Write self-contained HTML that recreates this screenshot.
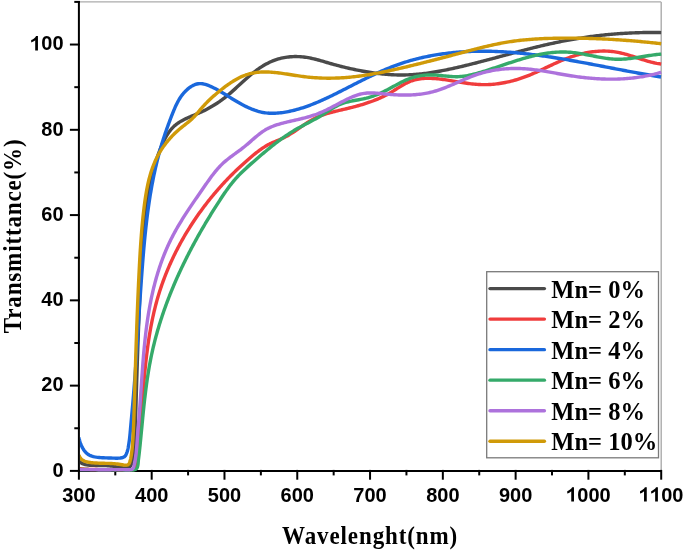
<!DOCTYPE html>
<html><head><meta charset="utf-8"><style>
html,body{margin:0;padding:0;background:#fff;width:685px;height:552px;overflow:hidden}
svg{display:block;filter:blur(0.4px)}
</style></head><body>
<svg width="685" height="552" viewBox="0 0 685 552">
<rect width="685" height="552" fill="#fff"/>
<g stroke="#ababab" stroke-width="1.4" fill="none">
<line x1="78.9" y1="1.9" x2="661.2" y2="1.9"/>
<line x1="661.2" y1="1.9" x2="661.2" y2="470.9"/>
</g>
<g stroke="#000" stroke-width="2" fill="none">
<line x1="78.9" y1="0.9999999999999999" x2="78.9" y2="470.9"/>
<line x1="78.9" y1="470.9" x2="661.2" y2="470.9"/>
<line x1="78.90" y1="469.90" x2="78.90" y2="479.70"/>
<line x1="115.29" y1="469.90" x2="115.29" y2="475.40"/>
<line x1="151.69" y1="469.90" x2="151.69" y2="479.70"/>
<line x1="188.08" y1="469.90" x2="188.08" y2="475.40"/>
<line x1="224.48" y1="469.90" x2="224.48" y2="479.70"/>
<line x1="260.87" y1="469.90" x2="260.87" y2="475.40"/>
<line x1="297.26" y1="469.90" x2="297.26" y2="479.70"/>
<line x1="333.66" y1="469.90" x2="333.66" y2="475.40"/>
<line x1="370.05" y1="469.90" x2="370.05" y2="479.70"/>
<line x1="406.44" y1="469.90" x2="406.44" y2="475.40"/>
<line x1="442.84" y1="469.90" x2="442.84" y2="479.70"/>
<line x1="479.23" y1="469.90" x2="479.23" y2="475.40"/>
<line x1="515.63" y1="469.90" x2="515.63" y2="479.70"/>
<line x1="552.02" y1="469.90" x2="552.02" y2="475.40"/>
<line x1="588.41" y1="469.90" x2="588.41" y2="479.70"/>
<line x1="624.81" y1="469.90" x2="624.81" y2="475.40"/>
<line x1="661.20" y1="469.90" x2="661.20" y2="479.70"/>
<line x1="69.90" y1="470.90" x2="79.90" y2="470.90"/>
<line x1="74.30" y1="428.26" x2="79.90" y2="428.26"/>
<line x1="69.90" y1="385.63" x2="79.90" y2="385.63"/>
<line x1="74.30" y1="342.99" x2="79.90" y2="342.99"/>
<line x1="69.90" y1="300.35" x2="79.90" y2="300.35"/>
<line x1="74.30" y1="257.72" x2="79.90" y2="257.72"/>
<line x1="69.90" y1="215.08" x2="79.90" y2="215.08"/>
<line x1="74.30" y1="172.45" x2="79.90" y2="172.45"/>
<line x1="69.90" y1="129.81" x2="79.90" y2="129.81"/>
<line x1="74.30" y1="87.17" x2="79.90" y2="87.17"/>
<line x1="69.90" y1="44.54" x2="79.90" y2="44.54"/>
<line x1="74.30" y1="1.90" x2="79.90" y2="1.90"/>
</g>
<defs><clipPath id="pc"><rect x="79.9" y="0" width="590" height="480"/></clipPath></defs>
<g fill="none" stroke-width="3.4" stroke-linejoin="round" stroke-linecap="butt" clip-path="url(#pc)">
<path d="M78.83,461.06 L79.98,462.10 L81.21,462.95 L82.50,463.64 L83.85,464.18 L85.25,464.60 L86.69,464.91 L88.16,465.12 L89.66,465.26 L91.17,465.34 L92.69,465.39 L94.21,465.42 L95.73,465.44 L97.24,465.46 L98.75,465.47 L100.25,465.49 L101.75,465.51 L103.25,465.55 L104.74,465.60 L106.22,465.66 L107.70,465.75 L109.18,465.85 L110.65,465.99 L112.11,466.15 L113.57,466.35 L115.04,466.56 L116.52,466.81 L118.02,467.07 L119.54,467.34 L121.08,467.60 L122.63,467.80 L124.17,467.91 L125.71,467.90 L127.20,467.73 L128.58,467.36 L129.77,466.74 L130.69,465.84 L131.30,464.64 L131.69,463.23 L131.99,461.74 L132.27,460.25 L132.52,458.76 L132.76,457.27 L132.99,455.78 L133.19,454.29 L133.39,452.80 L133.57,451.31 L133.73,449.81 L133.89,448.32 L134.03,446.83 L134.16,445.34 L134.29,443.84 L134.40,442.35 L134.51,440.86 L134.60,439.36 L134.69,437.87 L134.78,436.37 L134.86,434.88 L134.93,433.38 L135.01,431.89 L135.07,430.39 L135.14,428.90 L135.20,427.40 L135.27,425.91 L135.33,424.41 L135.38,422.91 L135.44,421.42 L135.50,419.92 L135.55,418.42 L135.60,416.92 L135.65,415.43 L135.70,413.93 L135.75,412.43 L135.80,410.93 L135.85,409.44 L135.89,407.94 L135.94,406.44 L135.98,404.94 L136.03,403.45 L136.07,401.95 L136.12,400.45 L136.16,398.95 L136.21,397.45 L136.26,395.96 L136.30,394.46 L136.35,392.96 L136.39,391.46 L136.44,389.97 L136.48,388.47 L136.53,386.97 L136.58,385.47 L136.62,383.98 L136.67,382.48 L136.72,380.98 L136.76,379.49 L136.81,377.99 L136.86,376.49 L136.91,375.00 L136.95,373.50 L137.00,372.00 L137.05,370.50 L137.10,369.01 L137.15,367.51 L137.20,366.01 L137.25,364.52 L137.29,363.02 L137.34,361.52 L137.39,360.03 L137.44,358.53 L137.49,357.03 L137.54,355.54 L137.59,354.04 L137.65,352.54 L137.70,351.05 L137.75,349.55 L137.80,348.05 L137.85,346.56 L137.90,345.06 L137.96,343.56 L138.01,342.07 L138.06,340.57 L138.11,339.07 L138.17,337.58 L138.22,336.08 L138.27,334.58 L138.33,333.09 L138.38,331.59 L138.44,330.09 L138.49,328.60 L138.55,327.10 L138.60,325.60 L138.66,324.11 L138.72,322.61 L138.77,321.11 L138.83,319.62 L138.89,318.12 L138.94,316.62 L139.00,315.13 L139.06,313.63 L139.12,312.13 L139.18,310.63 L139.24,309.14 L139.30,307.64 L139.36,306.14 L139.42,304.65 L139.48,303.15 L139.54,301.65 L139.60,300.15 L139.66,298.66 L139.72,297.16 L139.78,295.66 L139.85,294.16 L139.91,292.67 L139.97,291.17 L140.04,289.67 L140.10,288.17 L140.16,286.67 L140.23,285.18 L140.29,283.68 L140.36,282.18 L140.42,280.68 L140.49,279.18 L140.56,277.69 L140.63,276.19 L140.69,274.69 L140.76,273.19 L140.83,271.69 L140.90,270.19 L140.97,268.69 L141.04,267.20 L141.11,265.70 L141.18,264.20 L141.25,262.70 L141.32,261.20 L141.40,259.70 L141.47,258.20 L141.55,256.70 L141.62,255.20 L141.70,253.70 L141.78,252.21 L141.87,250.71 L141.95,249.21 L142.04,247.71 L142.13,246.22 L142.22,244.72 L142.31,243.22 L142.41,241.72 L142.51,240.23 L142.61,238.73 L142.72,237.24 L142.83,235.74 L142.94,234.25 L143.06,232.76 L143.18,231.26 L143.30,229.77 L143.43,228.28 L143.56,226.79 L143.70,225.30 L143.84,223.81 L143.99,222.32 L144.14,220.83 L144.29,219.34 L144.45,217.85 L144.62,216.37 L144.79,214.88 L144.96,213.40 L145.14,211.92 L145.33,210.43 L145.52,208.95 L145.72,207.47 L145.93,205.99 L146.14,204.51 L146.36,203.04 L146.58,201.56 L146.81,200.09 L147.05,198.61 L147.29,197.14 L147.54,195.67 L147.80,194.20 L148.07,192.73 L148.34,191.26 L148.62,189.80 L148.91,188.33 L149.21,186.87 L149.51,185.40 L149.82,183.94 L150.14,182.49 L150.47,181.03 L150.81,179.57 L151.16,178.12 L151.51,176.66 L151.88,175.21 L152.25,173.76 L152.64,172.31 L153.03,170.87 L153.43,169.42 L153.84,167.98 L154.26,166.54 L154.70,165.10 L155.14,163.66 L155.59,162.23 L156.05,160.79 L156.53,159.36 L157.01,157.93 L157.50,156.50 L158.01,155.08 L158.53,153.65 L159.05,152.23 L159.59,150.81 L160.14,149.39 L160.71,147.98 L161.28,146.57 L161.88,145.17 L162.49,143.78 L163.12,142.40 L163.76,141.03 L164.43,139.68 L165.13,138.35 L165.85,137.04 L166.60,135.76 L167.37,134.50 L168.18,133.26 L169.02,132.06 L169.89,130.89 L170.79,129.76 L171.74,128.66 L172.72,127.60 L173.74,126.59 L174.80,125.61 L175.91,124.69 L177.06,123.80 L178.25,122.96 L179.47,122.16 L180.73,121.40 L182.02,120.66 L183.33,119.96 L184.67,119.28 L186.03,118.62 L187.40,117.98 L188.80,117.36 L190.20,116.74 L191.61,116.14 L193.02,115.55 L194.44,114.95 L195.86,114.36 L197.27,113.76 L198.68,113.15 L200.07,112.53 L201.45,111.90 L202.82,111.26 L204.18,110.60 L205.52,109.92 L206.86,109.24 L208.17,108.53 L209.48,107.82 L210.78,107.09 L212.06,106.34 L213.33,105.58 L214.59,104.80 L215.84,104.01 L217.08,103.21 L218.31,102.39 L219.53,101.55 L220.73,100.70 L221.93,99.84 L223.12,98.95 L224.29,98.06 L225.46,97.14 L226.62,96.21 L227.77,95.27 L228.91,94.31 L230.04,93.35 L231.17,92.37 L232.29,91.38 L233.41,90.38 L234.52,89.38 L235.63,88.37 L236.74,87.35 L237.85,86.34 L238.96,85.32 L240.07,84.30 L241.18,83.27 L242.29,82.26 L243.41,81.24 L244.53,80.23 L245.65,79.22 L246.78,78.22 L247.92,77.22 L249.06,76.24 L250.21,75.26 L251.38,74.30 L252.54,73.35 L253.72,72.41 L254.91,71.49 L256.11,70.58 L257.31,69.69 L258.53,68.82 L259.76,67.97 L261.00,67.14 L262.26,66.34 L263.52,65.56 L264.80,64.80 L266.09,64.08 L267.40,63.38 L268.72,62.71 L270.05,62.07 L271.40,61.46 L272.76,60.89 L274.14,60.35 L275.54,59.84 L276.95,59.38 L278.37,58.95 L279.81,58.55 L281.26,58.19 L282.73,57.87 L284.20,57.59 L285.68,57.34 L287.17,57.12 L288.66,56.94 L290.17,56.79 L291.67,56.68 L293.18,56.61 L294.69,56.56 L296.20,56.55 L297.70,56.58 L299.21,56.63 L300.71,56.72 L302.21,56.85 L303.71,57.00 L305.19,57.19 L306.67,57.41 L308.14,57.65 L309.61,57.93 L311.07,58.23 L312.53,58.55 L313.98,58.89 L315.43,59.25 L316.87,59.62 L318.31,60.01 L319.75,60.41 L321.19,60.82 L322.63,61.23 L324.06,61.66 L325.49,62.08 L326.93,62.50 L328.37,62.93 L329.80,63.35 L331.24,63.76 L332.68,64.17 L334.12,64.57 L335.57,64.96 L337.02,65.35 L338.46,65.73 L339.91,66.11 L341.37,66.48 L342.82,66.84 L344.28,67.19 L345.73,67.54 L347.19,67.89 L348.65,68.22 L350.12,68.55 L351.58,68.87 L353.05,69.19 L354.51,69.50 L355.98,69.81 L357.45,70.11 L358.93,70.40 L360.40,70.68 L361.87,70.96 L363.35,71.23 L364.83,71.49 L366.31,71.75 L367.79,72.00 L369.27,72.23 L370.75,72.47 L372.23,72.69 L373.72,72.90 L375.20,73.11 L376.69,73.30 L378.17,73.49 L379.66,73.66 L381.15,73.83 L382.64,73.98 L384.13,74.13 L385.62,74.26 L387.11,74.39 L388.60,74.50 L390.09,74.60 L391.58,74.69 L393.07,74.77 L394.56,74.84 L396.05,74.90 L397.54,74.94 L399.03,74.97 L400.52,74.99 L402.01,74.99 L403.50,74.98 L405.00,74.96 L406.49,74.92 L407.98,74.88 L409.46,74.81 L410.95,74.74 L412.44,74.65 L413.93,74.55 L415.42,74.44 L416.91,74.31 L418.39,74.18 L419.88,74.03 L421.36,73.87 L422.85,73.71 L424.33,73.53 L425.82,73.34 L427.30,73.14 L428.78,72.93 L430.27,72.72 L431.75,72.49 L433.23,72.26 L434.71,72.01 L436.19,71.76 L437.67,71.50 L439.14,71.24 L440.62,70.97 L442.10,70.69 L443.57,70.40 L445.04,70.11 L446.52,69.81 L447.99,69.51 L449.46,69.20 L450.93,68.88 L452.40,68.56 L453.87,68.24 L455.33,67.91 L456.80,67.58 L458.26,67.24 L459.73,66.90 L461.19,66.56 L462.65,66.22 L464.11,65.87 L465.57,65.52 L467.03,65.16 L468.49,64.80 L469.94,64.44 L471.40,64.08 L472.86,63.72 L474.31,63.35 L475.76,62.98 L477.22,62.61 L478.67,62.23 L480.12,61.86 L481.57,61.48 L483.02,61.10 L484.47,60.72 L485.92,60.34 L487.37,59.96 L488.82,59.57 L490.27,59.19 L491.71,58.80 L493.16,58.42 L494.61,58.03 L496.06,57.64 L497.50,57.25 L498.95,56.86 L500.39,56.47 L501.84,56.08 L503.29,55.69 L504.73,55.30 L506.18,54.92 L507.62,54.53 L509.07,54.14 L510.51,53.75 L511.96,53.36 L513.41,52.98 L514.85,52.59 L516.30,52.21 L517.74,51.83 L519.19,51.44 L520.64,51.06 L522.08,50.68 L523.53,50.31 L524.98,49.93 L526.43,49.56 L527.88,49.19 L529.33,48.82 L530.78,48.45 L532.23,48.08 L533.68,47.72 L535.13,47.36 L536.58,47.01 L538.03,46.65 L539.49,46.30 L540.94,45.95 L542.40,45.61 L543.85,45.26 L545.31,44.92 L546.77,44.59 L548.22,44.26 L549.68,43.93 L551.14,43.61 L552.60,43.29 L554.07,42.97 L555.53,42.66 L556.99,42.35 L558.46,42.05 L559.93,41.75 L561.39,41.45 L562.86,41.16 L564.33,40.88 L565.80,40.60 L567.28,40.32 L568.75,40.05 L570.22,39.79 L571.70,39.53 L573.18,39.27 L574.65,39.02 L576.13,38.77 L577.61,38.53 L579.09,38.29 L580.57,38.06 L582.05,37.83 L583.53,37.60 L585.02,37.38 L586.50,37.17 L587.99,36.96 L589.47,36.75 L590.96,36.55 L592.45,36.36 L593.93,36.17 L595.42,35.98 L596.91,35.80 L598.40,35.62 L599.89,35.45 L601.38,35.28 L602.87,35.12 L604.36,34.97 L605.85,34.81 L607.35,34.66 L608.84,34.52 L610.33,34.38 L611.83,34.25 L613.32,34.12 L614.81,34.00 L616.31,33.88 L617.80,33.76 L619.30,33.65 L620.79,33.55 L622.29,33.45 L623.79,33.36 L625.28,33.27 L626.78,33.18 L628.27,33.10 L629.77,33.03 L631.27,32.96 L632.76,32.89 L634.26,32.83 L635.75,32.77 L637.25,32.72 L638.75,32.68 L640.24,32.64 L641.74,32.60 L643.23,32.57 L644.73,32.54 L646.22,32.52 L647.72,32.50 L649.21,32.49 L650.71,32.49 L652.20,32.48 L653.70,32.49 L655.19,32.50 L656.69,32.51 L658.18,32.53 L659.67,32.55 L661.16,32.58" stroke="#4a4a4a"/>
<path d="M78.90,468.57 L80.39,468.74 L81.88,468.88 L83.38,469.02 L84.87,469.13 L86.37,469.23 L87.86,469.31 L89.35,469.38 L90.85,469.44 L92.35,469.49 L93.84,469.52 L95.34,469.55 L96.83,469.57 L98.33,469.59 L99.83,469.60 L101.32,469.60 L102.82,469.60 L104.32,469.61 L105.82,469.61 L107.32,469.61 L108.82,469.61 L110.32,469.62 L111.82,469.63 L113.32,469.64 L114.82,469.66 L116.31,469.67 L117.81,469.68 L119.31,469.69 L120.80,469.69 L122.29,469.69 L123.78,469.68 L125.27,469.67 L126.77,469.67 L128.28,469.67 L129.81,469.68 L131.37,469.70 L132.90,469.65 L134.25,469.26 L135.33,468.47 L136.09,467.38 L136.56,466.05 L136.83,464.57 L136.96,462.99 L137.02,461.38 L137.09,459.81 L137.19,458.31 L137.33,456.84 L137.47,455.39 L137.62,453.94 L137.77,452.47 L137.92,450.99 L138.07,449.50 L138.22,448.01 L138.36,446.51 L138.51,445.01 L138.65,443.51 L138.80,442.01 L138.94,440.51 L139.08,439.02 L139.22,437.52 L139.36,436.02 L139.50,434.53 L139.63,433.04 L139.77,431.55 L139.90,430.06 L140.04,428.57 L140.17,427.08 L140.30,425.59 L140.43,424.10 L140.56,422.61 L140.69,421.13 L140.81,419.64 L140.94,418.15 L141.06,416.66 L141.19,415.17 L141.31,413.68 L141.43,412.19 L141.56,410.70 L141.68,409.21 L141.80,407.72 L141.92,406.22 L142.04,404.73 L142.16,403.24 L142.28,401.74 L142.40,400.25 L142.52,398.75 L142.64,397.26 L142.76,395.76 L142.88,394.27 L143.00,392.77 L143.12,391.27 L143.25,389.78 L143.37,388.28 L143.50,386.78 L143.62,385.29 L143.75,383.79 L143.88,382.29 L144.01,380.80 L144.15,379.30 L144.28,377.80 L144.42,376.31 L144.56,374.81 L144.70,373.31 L144.84,371.82 L144.99,370.32 L145.14,368.83 L145.29,367.33 L145.44,365.84 L145.60,364.35 L145.76,362.85 L145.92,361.36 L146.09,359.87 L146.26,358.38 L146.43,356.89 L146.61,355.40 L146.79,353.91 L146.98,352.42 L147.16,350.93 L147.36,349.44 L147.55,347.96 L147.75,346.47 L147.96,344.99 L148.17,343.51 L148.39,342.02 L148.60,340.54 L148.83,339.06 L149.06,337.58 L149.29,336.11 L149.53,334.63 L149.78,333.16 L150.03,331.68 L150.29,330.21 L150.55,328.74 L150.82,327.27 L151.09,325.80 L151.37,324.33 L151.66,322.87 L151.95,321.40 L152.25,319.94 L152.55,318.48 L152.86,317.02 L153.18,315.57 L153.51,314.11 L153.84,312.66 L154.18,311.21 L154.53,309.76 L154.88,308.31 L155.25,306.86 L155.62,305.42 L155.99,303.97 L156.38,302.53 L156.77,301.10 L157.17,299.66 L157.58,298.23 L158.00,296.79 L158.43,295.37 L158.86,293.94 L159.31,292.51 L159.76,291.09 L160.22,289.67 L160.69,288.25 L161.16,286.84 L161.65,285.42 L162.14,284.01 L162.64,282.61 L163.15,281.20 L163.66,279.80 L164.19,278.40 L164.72,277.00 L165.26,275.61 L165.81,274.22 L166.37,272.83 L166.93,271.44 L167.50,270.06 L168.08,268.68 L168.67,267.30 L169.26,265.93 L169.86,264.55 L170.47,263.19 L171.09,261.82 L171.72,260.46 L172.35,259.10 L172.99,257.74 L173.63,256.39 L174.29,255.04 L174.95,253.70 L175.62,252.35 L176.29,251.01 L176.97,249.68 L177.66,248.35 L178.36,247.02 L179.06,245.69 L179.77,244.37 L180.49,243.05 L181.22,241.74 L181.95,240.43 L182.68,239.12 L183.43,237.82 L184.18,236.52 L184.94,235.22 L185.70,233.93 L186.47,232.64 L187.25,231.36 L188.04,230.08 L188.83,228.80 L189.62,227.53 L190.43,226.26 L191.24,225.00 L192.05,223.74 L192.88,222.48 L193.70,221.23 L194.54,219.98 L195.38,218.74 L196.23,217.50 L197.08,216.27 L197.94,215.04 L198.80,213.81 L199.67,212.59 L200.55,211.38 L201.43,210.16 L202.32,208.96 L203.22,207.75 L204.12,206.56 L205.02,205.36 L205.93,204.17 L206.85,202.99 L207.77,201.81 L208.70,200.64 L209.63,199.47 L210.57,198.30 L211.52,197.14 L212.47,195.99 L213.42,194.84 L214.38,193.70 L215.35,192.56 L216.32,191.42 L217.30,190.29 L218.28,189.17 L219.26,188.05 L220.26,186.93 L221.26,185.82 L222.26,184.72 L223.27,183.62 L224.28,182.52 L225.30,181.43 L226.33,180.35 L227.36,179.27 L228.39,178.19 L229.43,177.12 L230.48,176.06 L231.53,175.00 L232.59,173.94 L233.65,172.89 L234.72,171.84 L235.79,170.80 L236.87,169.77 L237.95,168.73 L239.04,167.71 L240.14,166.69 L241.24,165.67 L242.35,164.66 L243.46,163.65 L244.57,162.65 L245.70,161.65 L246.82,160.65 L247.96,159.67 L249.10,158.68 L250.24,157.70 L251.39,156.73 L252.54,155.76 L253.71,154.80 L254.88,153.86 L256.06,152.92 L257.24,151.99 L258.44,151.09 L259.65,150.20 L260.87,149.32 L262.10,148.47 L263.35,147.64 L264.61,146.84 L265.88,146.06 L267.17,145.31 L268.47,144.59 L269.79,143.90 L271.13,143.24 L272.48,142.62 L273.85,142.02 L275.23,141.45 L276.61,140.88 L277.99,140.32 L279.36,139.75 L280.73,139.17 L282.08,138.56 L283.41,137.94 L284.72,137.28 L286.02,136.60 L287.31,135.89 L288.58,135.16 L289.84,134.41 L291.09,133.64 L292.33,132.85 L293.57,132.04 L294.80,131.22 L296.03,130.38 L297.26,129.54 L298.49,128.68 L299.72,127.82 L300.95,126.96 L302.18,126.10 L303.42,125.25 L304.66,124.40 L305.91,123.56 L307.16,122.74 L308.42,121.93 L309.70,121.14 L310.98,120.37 L312.27,119.63 L313.58,118.91 L314.90,118.23 L316.24,117.58 L317.59,116.96 L318.96,116.37 L320.34,115.82 L321.73,115.29 L323.13,114.79 L324.55,114.32 L325.98,113.87 L327.41,113.43 L328.85,113.02 L330.30,112.62 L331.75,112.24 L333.21,111.86 L334.67,111.50 L336.14,111.15 L337.61,110.80 L339.07,110.45 L340.54,110.11 L342.01,109.77 L343.47,109.43 L344.94,109.08 L346.40,108.73 L347.86,108.37 L349.31,108.02 L350.76,107.65 L352.21,107.29 L353.66,106.91 L355.10,106.53 L356.54,106.14 L357.98,105.75 L359.41,105.34 L360.84,104.93 L362.27,104.51 L363.69,104.07 L365.10,103.63 L366.51,103.18 L367.92,102.71 L369.32,102.23 L370.72,101.74 L372.11,101.23 L373.49,100.72 L374.87,100.18 L376.24,99.63 L377.61,99.07 L378.97,98.49 L380.33,97.89 L381.68,97.27 L383.02,96.64 L384.35,95.99 L385.68,95.31 L387.00,94.62 L388.32,93.91 L389.62,93.18 L390.92,92.42 L392.21,91.65 L393.50,90.86 L394.78,90.05 L396.06,89.24 L397.34,88.43 L398.62,87.63 L399.90,86.83 L401.19,86.04 L402.48,85.27 L403.78,84.52 L405.09,83.80 L406.41,83.11 L407.74,82.46 L409.08,81.85 L410.45,81.28 L411.83,80.77 L413.22,80.31 L414.64,79.90 L416.07,79.55 L417.52,79.25 L418.99,78.99 L420.46,78.78 L421.95,78.62 L423.44,78.49 L424.95,78.40 L426.45,78.35 L427.97,78.33 L429.49,78.34 L431.00,78.38 L432.52,78.44 L434.04,78.53 L435.56,78.64 L437.07,78.77 L438.58,78.92 L440.08,79.09 L441.59,79.26 L443.09,79.46 L444.58,79.66 L446.08,79.88 L447.57,80.10 L449.06,80.34 L450.54,80.58 L452.03,80.82 L453.51,81.07 L455.00,81.32 L456.48,81.58 L457.96,81.83 L459.43,82.08 L460.91,82.32 L462.39,82.56 L463.86,82.80 L465.34,83.03 L466.81,83.25 L468.29,83.45 L469.77,83.65 L471.24,83.83 L472.72,84.00 L474.19,84.15 L475.67,84.29 L477.15,84.40 L478.63,84.50 L480.11,84.57 L481.59,84.62 L483.08,84.65 L484.56,84.66 L486.05,84.64 L487.54,84.60 L489.02,84.54 L490.51,84.45 L491.99,84.35 L493.48,84.23 L494.96,84.08 L496.45,83.91 L497.93,83.73 L499.41,83.52 L500.89,83.30 L502.37,83.05 L503.84,82.79 L505.31,82.50 L506.78,82.20 L508.24,81.88 L509.71,81.54 L511.16,81.19 L512.62,80.81 L514.07,80.42 L515.51,80.01 L516.95,79.59 L518.39,79.15 L519.82,78.69 L521.25,78.22 L522.66,77.73 L524.08,77.22 L525.48,76.70 L526.89,76.17 L528.28,75.62 L529.67,75.06 L531.05,74.49 L532.43,73.90 L533.80,73.31 L535.17,72.70 L536.54,72.09 L537.90,71.47 L539.26,70.84 L540.62,70.21 L541.97,69.58 L543.32,68.94 L544.68,68.30 L546.03,67.66 L547.38,67.01 L548.73,66.37 L550.08,65.73 L551.44,65.09 L552.79,64.46 L554.15,63.83 L555.51,63.20 L556.87,62.59 L558.24,61.97 L559.61,61.37 L560.98,60.78 L562.36,60.20 L563.74,59.63 L565.13,59.07 L566.52,58.52 L567.92,57.99 L569.33,57.47 L570.74,56.97 L572.16,56.49 L573.59,56.03 L575.03,55.58 L576.47,55.15 L577.91,54.74 L579.37,54.35 L580.82,53.98 L582.28,53.63 L583.75,53.30 L585.22,52.99 L586.70,52.70 L588.17,52.43 L589.65,52.19 L591.13,51.97 L592.62,51.77 L594.11,51.59 L595.59,51.44 L597.08,51.32 L598.57,51.21 L600.06,51.14 L601.55,51.09 L603.04,51.06 L604.53,51.07 L606.02,51.09 L607.50,51.15 L608.99,51.24 L610.47,51.35 L611.95,51.49 L613.43,51.66 L614.90,51.86 L616.37,52.10 L617.83,52.36 L619.30,52.65 L620.75,52.97 L622.21,53.31 L623.66,53.68 L625.10,54.07 L626.55,54.47 L627.99,54.89 L629.43,55.33 L630.87,55.78 L632.31,56.24 L633.74,56.70 L635.18,57.17 L636.61,57.65 L638.05,58.12 L639.48,58.59 L640.92,59.06 L642.35,59.52 L643.79,59.98 L645.22,60.42 L646.66,60.85 L648.10,61.27 L649.54,61.67 L650.99,62.04 L652.43,62.40 L653.88,62.73 L655.33,63.04 L656.79,63.32 L658.25,63.56 L659.71,63.78 L661.18,63.96" stroke="#f03c3c"/>
<path d="M78.91,437.51 L79.22,438.96 L79.58,440.40 L80.00,441.84 L80.48,443.27 L81.01,444.67 L81.62,446.05 L82.28,447.40 L83.02,448.70 L83.83,449.97 L84.72,451.17 L85.69,452.30 L86.74,453.34 L87.89,454.26 L89.13,455.04 L90.46,455.68 L91.87,456.18 L93.33,456.58 L94.81,456.89 L96.31,457.14 L97.79,457.34 L99.28,457.50 L100.76,457.63 L102.24,457.72 L103.73,457.80 L105.21,457.86 L106.70,457.90 L108.20,457.95 L109.70,457.99 L111.20,458.05 L112.72,458.11 L114.24,458.17 L115.76,458.21 L117.28,458.21 L118.80,458.15 L120.31,458.03 L121.79,457.80 L123.16,457.38 L124.35,456.70 L125.33,455.74 L126.09,454.53 L126.69,453.17 L127.17,451.72 L127.59,450.26 L127.94,448.79 L128.25,447.31 L128.52,445.82 L128.77,444.34 L128.99,442.85 L129.20,441.36 L129.40,439.88 L129.58,438.39 L129.74,436.90 L129.90,435.41 L130.05,433.93 L130.19,432.44 L130.32,430.95 L130.46,429.46 L130.59,427.97 L130.72,426.48 L130.86,424.99 L130.99,423.50 L131.13,422.01 L131.26,420.52 L131.40,419.03 L131.53,417.53 L131.66,416.04 L131.80,414.55 L131.93,413.06 L132.07,411.56 L132.20,410.07 L132.34,408.58 L132.47,407.08 L132.60,405.59 L132.73,404.10 L132.86,402.60 L132.99,401.11 L133.12,399.61 L133.25,398.12 L133.37,396.63 L133.50,395.13 L133.62,393.64 L133.74,392.14 L133.87,390.65 L133.99,389.15 L134.10,387.66 L134.22,386.17 L134.34,384.67 L134.45,383.18 L134.57,381.68 L134.68,380.19 L134.79,378.69 L134.91,377.20 L135.02,375.71 L135.13,374.21 L135.23,372.72 L135.34,371.22 L135.45,369.73 L135.56,368.23 L135.66,366.74 L135.77,365.25 L135.87,363.75 L135.97,362.26 L136.07,360.76 L136.18,359.27 L136.28,357.77 L136.38,356.28 L136.48,354.79 L136.58,353.29 L136.68,351.80 L136.78,350.30 L136.87,348.81 L136.97,347.31 L137.07,345.82 L137.17,344.32 L137.26,342.83 L137.36,341.34 L137.45,339.84 L137.55,338.35 L137.64,336.85 L137.74,335.36 L137.83,333.86 L137.93,332.37 L138.02,330.87 L138.12,329.38 L138.21,327.88 L138.31,326.39 L138.40,324.90 L138.50,323.40 L138.59,321.91 L138.69,320.41 L138.78,318.92 L138.87,317.42 L138.97,315.93 L139.06,314.43 L139.16,312.94 L139.25,311.44 L139.35,309.95 L139.45,308.45 L139.54,306.96 L139.64,305.46 L139.74,303.97 L139.83,302.47 L139.93,300.98 L140.03,299.48 L140.13,297.99 L140.23,296.49 L140.33,295.00 L140.43,293.50 L140.53,292.01 L140.63,290.51 L140.73,289.02 L140.83,287.52 L140.94,286.03 L141.04,284.53 L141.14,283.04 L141.25,281.54 L141.36,280.05 L141.46,278.55 L141.57,277.06 L141.68,275.56 L141.79,274.07 L141.90,272.57 L142.01,271.08 L142.12,269.58 L142.24,268.08 L142.35,266.59 L142.47,265.09 L142.58,263.60 L142.70,262.10 L142.82,260.61 L142.94,259.11 L143.06,257.62 L143.19,256.12 L143.31,254.62 L143.44,253.13 L143.56,251.63 L143.69,250.14 L143.82,248.64 L143.95,247.15 L144.09,245.65 L144.22,244.16 L144.36,242.66 L144.50,241.17 L144.65,239.68 L144.79,238.18 L144.94,236.69 L145.09,235.20 L145.24,233.70 L145.39,232.21 L145.55,230.72 L145.71,229.23 L145.87,227.74 L146.03,226.25 L146.20,224.75 L146.37,223.27 L146.54,221.78 L146.72,220.29 L146.90,218.80 L147.08,217.31 L147.27,215.82 L147.46,214.34 L147.65,212.85 L147.85,211.37 L148.05,209.88 L148.25,208.40 L148.46,206.91 L148.67,205.43 L148.88,203.95 L149.10,202.47 L149.32,200.99 L149.55,199.51 L149.78,198.03 L150.01,196.55 L150.25,195.07 L150.49,193.60 L150.74,192.12 L150.99,190.65 L151.25,189.17 L151.51,187.70 L151.77,186.23 L152.04,184.76 L152.32,183.29 L152.60,181.82 L152.88,180.35 L153.17,178.89 L153.46,177.42 L153.76,175.96 L154.07,174.49 L154.38,173.03 L154.69,171.57 L155.02,170.11 L155.34,168.65 L155.67,167.19 L156.01,165.74 L156.35,164.28 L156.70,162.83 L157.06,161.38 L157.42,159.93 L157.78,158.48 L158.16,157.03 L158.54,155.58 L158.92,154.14 L159.31,152.69 L159.71,151.25 L160.11,149.81 L160.52,148.37 L160.94,146.93 L161.36,145.49 L161.79,144.06 L162.23,142.62 L162.67,141.19 L163.12,139.76 L163.58,138.33 L164.04,136.91 L164.52,135.48 L164.99,134.06 L165.47,132.63 L165.96,131.21 L166.46,129.80 L166.96,128.38 L167.46,126.97 L167.98,125.55 L168.49,124.14 L169.01,122.74 L169.54,121.33 L170.07,119.93 L170.60,118.52 L171.14,117.13 L171.69,115.73 L172.23,114.33 L172.79,112.94 L173.34,111.55 L173.91,110.17 L174.49,108.80 L175.08,107.43 L175.69,106.07 L176.32,104.73 L176.97,103.40 L177.65,102.08 L178.36,100.79 L179.10,99.51 L179.87,98.25 L180.68,97.02 L181.54,95.81 L182.43,94.62 L183.37,93.46 L184.36,92.33 L185.40,91.24 L186.49,90.17 L187.64,89.14 L188.84,88.16 L190.09,87.23 L191.38,86.38 L192.71,85.62 L194.07,84.96 L195.45,84.42 L196.86,84.00 L198.28,83.73 L199.71,83.61 L201.14,83.63 L202.58,83.78 L204.02,84.05 L205.45,84.42 L206.88,84.87 L208.30,85.39 L209.71,85.98 L211.10,86.60 L212.48,87.25 L213.83,87.92 L215.16,88.61 L216.48,89.31 L217.79,90.02 L219.08,90.75 L220.36,91.49 L221.63,92.24 L222.89,92.99 L224.15,93.76 L225.40,94.53 L226.65,95.30 L227.90,96.08 L229.15,96.86 L230.40,97.65 L231.66,98.43 L232.93,99.21 L234.21,99.99 L235.49,100.77 L236.79,101.54 L238.10,102.30 L239.42,103.06 L240.76,103.80 L242.10,104.54 L243.46,105.25 L244.82,105.95 L246.20,106.63 L247.59,107.29 L248.98,107.93 L250.39,108.53 L251.80,109.12 L253.22,109.67 L254.64,110.19 L256.08,110.67 L257.52,111.12 L258.96,111.52 L260.41,111.89 L261.86,112.22 L263.32,112.50 L264.79,112.73 L266.25,112.92 L267.72,113.07 L269.19,113.18 L270.67,113.25 L272.14,113.28 L273.62,113.28 L275.10,113.24 L276.57,113.16 L278.05,113.06 L279.53,112.93 L281.00,112.76 L282.48,112.57 L283.95,112.36 L285.41,112.12 L286.88,111.86 L288.34,111.57 L289.80,111.27 L291.25,110.95 L292.70,110.61 L294.15,110.25 L295.59,109.87 L297.02,109.48 L298.45,109.08 L299.88,108.66 L301.31,108.22 L302.73,107.77 L304.14,107.30 L305.55,106.82 L306.96,106.33 L308.37,105.82 L309.77,105.30 L311.17,104.77 L312.56,104.23 L313.96,103.67 L315.35,103.11 L316.73,102.54 L318.11,101.95 L319.49,101.36 L320.87,100.76 L322.25,100.15 L323.62,99.53 L324.99,98.90 L326.35,98.27 L327.72,97.63 L329.08,96.98 L330.44,96.33 L331.80,95.67 L333.15,95.01 L334.51,94.34 L335.86,93.67 L337.21,93.00 L338.56,92.32 L339.91,91.64 L341.25,90.96 L342.60,90.28 L343.94,89.59 L345.28,88.91 L346.62,88.22 L347.96,87.53 L349.30,86.85 L350.63,86.16 L351.97,85.48 L353.31,84.80 L354.64,84.11 L355.98,83.43 L357.31,82.76 L358.65,82.08 L359.98,81.41 L361.32,80.74 L362.65,80.07 L363.99,79.41 L365.32,78.75 L366.66,78.09 L368.00,77.44 L369.34,76.79 L370.68,76.14 L372.03,75.51 L373.37,74.87 L374.72,74.24 L376.07,73.62 L377.42,73.00 L378.77,72.39 L380.12,71.78 L381.48,71.18 L382.84,70.59 L384.21,70.00 L385.57,69.42 L386.94,68.85 L388.31,68.28 L389.69,67.73 L391.07,67.18 L392.45,66.64 L393.84,66.11 L395.23,65.59 L396.63,65.07 L398.02,64.57 L399.43,64.08 L400.84,63.59 L402.25,63.12 L403.67,62.65 L405.09,62.20 L406.52,61.75 L407.95,61.32 L409.39,60.90 L410.83,60.48 L412.27,60.08 L413.72,59.68 L415.17,59.30 L416.62,58.92 L418.08,58.56 L419.54,58.20 L421.01,57.86 L422.47,57.52 L423.94,57.19 L425.41,56.87 L426.89,56.57 L428.37,56.27 L429.85,55.98 L431.33,55.70 L432.81,55.42 L434.30,55.16 L435.78,54.91 L437.27,54.66 L438.76,54.43 L440.25,54.20 L441.74,53.98 L443.23,53.77 L444.73,53.57 L446.22,53.38 L447.72,53.20 L449.21,53.02 L450.71,52.86 L452.20,52.70 L453.70,52.55 L455.19,52.41 L456.68,52.28 L458.18,52.15 L459.67,52.04 L461.17,51.93 L462.66,51.83 L464.16,51.73 L465.65,51.65 L467.14,51.57 L468.64,51.50 L470.13,51.44 L471.62,51.39 L473.12,51.34 L474.61,51.30 L476.10,51.27 L477.59,51.24 L479.09,51.22 L480.58,51.21 L482.07,51.21 L483.56,51.21 L485.05,51.22 L486.55,51.23 L488.04,51.26 L489.53,51.28 L491.02,51.32 L492.51,51.36 L494.00,51.41 L495.49,51.46 L496.98,51.52 L498.47,51.59 L499.96,51.66 L501.45,51.74 L502.94,51.82 L504.43,51.91 L505.92,52.00 L507.41,52.10 L508.90,52.21 L510.39,52.32 L511.88,52.44 L513.36,52.56 L514.85,52.68 L516.34,52.81 L517.83,52.95 L519.32,53.09 L520.80,53.24 L522.29,53.39 L523.78,53.54 L525.26,53.70 L526.75,53.87 L528.24,54.04 L529.72,54.21 L531.21,54.39 L532.69,54.57 L534.18,54.75 L535.67,54.94 L537.15,55.14 L538.64,55.33 L540.12,55.53 L541.60,55.74 L543.09,55.95 L544.57,56.16 L546.06,56.37 L547.54,56.59 L549.02,56.81 L550.51,57.04 L551.99,57.27 L553.47,57.50 L554.96,57.73 L556.44,57.97 L557.92,58.20 L559.40,58.45 L560.88,58.69 L562.36,58.94 L563.85,59.19 L565.33,59.44 L566.81,59.69 L568.29,59.95 L569.77,60.21 L571.25,60.47 L572.73,60.73 L574.21,60.99 L575.69,61.26 L577.16,61.53 L578.64,61.80 L580.12,62.07 L581.60,62.34 L583.08,62.61 L584.56,62.89 L586.03,63.17 L587.51,63.44 L588.99,63.72 L590.46,64.00 L591.94,64.28 L593.42,64.56 L594.89,64.84 L596.37,65.13 L597.84,65.41 L599.32,65.69 L600.79,65.98 L602.27,66.26 L603.74,66.54 L605.22,66.83 L606.69,67.11 L608.16,67.40 L609.64,67.68 L611.11,67.97 L612.58,68.25 L614.05,68.54 L615.53,68.82 L617.00,69.10 L618.47,69.38 L619.94,69.67 L621.41,69.95 L622.88,70.23 L624.35,70.51 L625.82,70.79 L627.29,71.06 L628.76,71.34 L630.23,71.61 L631.70,71.89 L633.17,72.16 L634.64,72.43 L636.10,72.70 L637.57,72.97 L639.04,73.23 L640.51,73.50 L641.97,73.76 L643.44,74.02 L644.91,74.28 L646.37,74.54 L647.84,74.79 L649.30,75.04 L650.77,75.29 L652.23,75.54 L653.70,75.78 L655.16,76.03 L656.62,76.26 L658.09,76.50 L659.55,76.74 L661.01,76.97" stroke="#1a68dc"/>
<path d="M78.90,469.52 L80.40,469.52 L81.90,469.52 L83.39,469.53 L84.89,469.54 L86.39,469.56 L87.89,469.57 L89.39,469.59 L90.89,469.61 L92.39,469.62 L93.89,469.64 L95.39,469.66 L96.88,469.68 L98.38,469.70 L99.88,469.72 L101.38,469.74 L102.88,469.75 L104.38,469.77 L105.88,469.78 L107.38,469.79 L108.87,469.80 L110.37,469.80 L111.87,469.80 L113.36,469.80 L114.86,469.80 L116.36,469.81 L117.85,469.82 L119.35,469.83 L120.85,469.85 L122.35,469.89 L123.85,469.93 L125.35,469.98 L126.86,470.03 L128.38,470.07 L129.90,470.09 L131.43,470.07 L132.95,469.99 L134.39,469.76 L135.64,469.30 L136.61,468.51 L137.28,467.39 L137.72,466.01 L137.99,464.46 L138.16,462.84 L138.29,461.22 L138.44,459.67 L138.61,458.19 L138.79,456.74 L138.97,455.29 L139.15,453.83 L139.32,452.37 L139.48,450.89 L139.64,449.41 L139.80,447.92 L139.96,446.42 L140.11,444.92 L140.26,443.42 L140.40,441.93 L140.55,440.43 L140.70,438.93 L140.84,437.43 L140.98,435.94 L141.13,434.45 L141.27,432.95 L141.41,431.46 L141.55,429.97 L141.70,428.48 L141.84,426.98 L141.98,425.49 L142.12,424.00 L142.27,422.51 L142.41,421.02 L142.55,419.53 L142.70,418.04 L142.85,416.56 L142.99,415.07 L143.14,413.58 L143.29,412.09 L143.44,410.60 L143.60,409.11 L143.75,407.62 L143.91,406.13 L144.07,404.64 L144.23,403.15 L144.40,401.66 L144.56,400.17 L144.73,398.68 L144.90,397.19 L145.08,395.70 L145.26,394.21 L145.44,392.72 L145.62,391.23 L145.81,389.74 L146.00,388.26 L146.20,386.77 L146.40,385.28 L146.60,383.80 L146.81,382.31 L147.02,380.83 L147.23,379.35 L147.45,377.86 L147.68,376.38 L147.90,374.90 L148.14,373.42 L148.38,371.94 L148.62,370.46 L148.87,368.99 L149.12,367.51 L149.38,366.03 L149.65,364.56 L149.92,363.09 L150.20,361.61 L150.48,360.14 L150.77,358.67 L151.07,357.21 L151.37,355.74 L151.68,354.27 L151.99,352.81 L152.31,351.35 L152.64,349.89 L152.98,348.43 L153.32,346.97 L153.67,345.51 L154.02,344.06 L154.38,342.61 L154.75,341.15 L155.12,339.70 L155.50,338.26 L155.89,336.81 L156.28,335.36 L156.68,333.92 L157.08,332.48 L157.49,331.04 L157.91,329.60 L158.33,328.16 L158.76,326.73 L159.19,325.29 L159.63,323.86 L160.08,322.43 L160.53,321.00 L160.99,319.57 L161.45,318.15 L161.92,316.73 L162.39,315.31 L162.87,313.89 L163.36,312.47 L163.85,311.05 L164.34,309.64 L164.84,308.23 L165.35,306.82 L165.86,305.41 L166.38,304.00 L166.90,302.60 L167.43,301.20 L167.96,299.80 L168.49,298.40 L169.04,297.00 L169.58,295.61 L170.13,294.22 L170.69,292.83 L171.25,291.44 L171.82,290.05 L172.39,288.67 L172.96,287.28 L173.54,285.90 L174.13,284.53 L174.72,283.15 L175.31,281.77 L175.91,280.40 L176.51,279.03 L177.12,277.66 L177.73,276.30 L178.35,274.93 L178.97,273.57 L179.60,272.21 L180.23,270.85 L180.86,269.49 L181.50,268.14 L182.14,266.78 L182.79,265.43 L183.44,264.08 L184.09,262.74 L184.75,261.39 L185.42,260.05 L186.08,258.71 L186.75,257.37 L187.43,256.03 L188.11,254.69 L188.79,253.36 L189.48,252.03 L190.17,250.70 L190.87,249.37 L191.56,248.05 L192.27,246.72 L192.97,245.40 L193.68,244.08 L194.40,242.76 L195.11,241.44 L195.84,240.13 L196.56,238.82 L197.29,237.51 L198.02,236.20 L198.75,234.89 L199.49,233.58 L200.23,232.28 L200.98,230.98 L201.73,229.68 L202.48,228.38 L203.24,227.09 L203.99,225.79 L204.76,224.50 L205.52,223.21 L206.29,221.92 L207.06,220.64 L207.83,219.35 L208.61,218.07 L209.39,216.79 L210.17,215.51 L210.96,214.23 L211.75,212.96 L212.54,211.68 L213.34,210.41 L214.14,209.14 L214.94,207.87 L215.74,206.61 L216.55,205.34 L217.35,204.08 L218.17,202.82 L218.98,201.56 L219.80,200.31 L220.62,199.05 L221.44,197.80 L222.27,196.55 L223.10,195.30 L223.94,194.06 L224.78,192.83 L225.63,191.60 L226.49,190.38 L227.36,189.16 L228.24,187.96 L229.13,186.76 L230.03,185.57 L230.94,184.39 L231.86,183.22 L232.79,182.07 L233.74,180.92 L234.71,179.79 L235.69,178.67 L236.68,177.56 L237.69,176.47 L238.72,175.39 L239.75,174.32 L240.80,173.27 L241.87,172.22 L242.94,171.19 L244.02,170.16 L245.12,169.14 L246.22,168.13 L247.33,167.12 L248.44,166.12 L249.56,165.13 L250.68,164.14 L251.81,163.15 L252.94,162.16 L254.08,161.18 L255.21,160.20 L256.34,159.22 L257.48,158.24 L258.62,157.26 L259.75,156.28 L260.89,155.31 L262.03,154.33 L263.18,153.36 L264.32,152.40 L265.47,151.44 L266.62,150.48 L267.78,149.52 L268.93,148.57 L270.10,147.63 L271.26,146.69 L272.43,145.76 L273.60,144.83 L274.78,143.91 L275.96,142.99 L277.15,142.09 L278.34,141.19 L279.54,140.30 L280.74,139.41 L281.95,138.54 L283.16,137.67 L284.38,136.81 L285.61,135.97 L286.85,135.13 L288.09,134.30 L289.34,133.49 L290.59,132.68 L291.85,131.89 L293.13,131.10 L294.41,130.33 L295.69,129.57 L296.99,128.83 L298.29,128.10 L299.61,127.37 L300.92,126.66 L302.25,125.95 L303.57,125.25 L304.90,124.55 L306.23,123.85 L307.57,123.16 L308.90,122.46 L310.23,121.76 L311.56,121.06 L312.89,120.35 L314.21,119.63 L315.53,118.90 L316.84,118.17 L318.14,117.42 L319.44,116.66 L320.73,115.88 L322.01,115.08 L323.28,114.28 L324.54,113.46 L325.81,112.65 L327.06,111.83 L328.32,111.01 L329.58,110.20 L330.85,109.40 L332.12,108.62 L333.40,107.86 L334.69,107.12 L335.99,106.41 L337.30,105.72 L338.63,105.08 L339.97,104.47 L341.34,103.90 L342.72,103.38 L344.13,102.91 L345.55,102.48 L346.99,102.09 L348.45,101.73 L349.92,101.39 L351.40,101.08 L352.89,100.79 L354.38,100.51 L355.88,100.24 L357.38,99.98 L358.88,99.71 L360.37,99.44 L361.87,99.15 L363.35,98.85 L364.83,98.53 L366.30,98.19 L367.75,97.81 L369.19,97.41 L370.62,96.98 L372.03,96.51 L373.43,96.03 L374.83,95.51 L376.21,94.98 L377.59,94.41 L378.95,93.83 L380.31,93.23 L381.66,92.61 L383.01,91.97 L384.35,91.31 L385.69,90.64 L387.02,89.95 L388.34,89.25 L389.67,88.54 L390.99,87.82 L392.31,87.09 L393.64,86.36 L394.96,85.63 L396.28,84.91 L397.61,84.19 L398.94,83.48 L400.27,82.78 L401.61,82.09 L402.95,81.43 L404.30,80.78 L405.66,80.16 L407.03,79.57 L408.40,79.01 L409.79,78.47 L411.18,77.98 L412.59,77.52 L414.01,77.11 L415.44,76.73 L416.88,76.39 L418.33,76.10 L419.79,75.83 L421.26,75.61 L422.74,75.42 L424.22,75.26 L425.71,75.14 L427.21,75.05 L428.71,75.00 L430.22,74.97 L431.73,74.97 L433.25,75.01 L434.76,75.07 L436.28,75.15 L437.80,75.27 L439.32,75.39 L440.84,75.54 L442.36,75.69 L443.88,75.85 L445.40,76.00 L446.91,76.16 L448.43,76.30 L449.94,76.43 L451.44,76.53 L452.94,76.62 L454.44,76.67 L455.93,76.70 L457.42,76.68 L458.89,76.63 L460.37,76.53 L461.83,76.40 L463.30,76.23 L464.75,76.04 L466.21,75.81 L467.65,75.55 L469.10,75.26 L470.54,74.95 L471.98,74.62 L473.42,74.27 L474.85,73.90 L476.29,73.52 L477.72,73.12 L479.15,72.71 L480.58,72.30 L482.01,71.87 L483.44,71.44 L484.87,71.00 L486.30,70.55 L487.74,70.10 L489.17,69.64 L490.60,69.18 L492.03,68.71 L493.46,68.24 L494.89,67.77 L496.32,67.29 L497.75,66.81 L499.18,66.33 L500.62,65.85 L502.05,65.37 L503.48,64.89 L504.91,64.41 L506.35,63.93 L507.78,63.46 L509.22,62.98 L510.65,62.51 L512.09,62.04 L513.52,61.58 L514.96,61.12 L516.40,60.66 L517.83,60.22 L519.27,59.77 L520.71,59.34 L522.15,58.91 L523.59,58.48 L525.04,58.07 L526.48,57.67 L527.92,57.27 L529.37,56.89 L530.81,56.51 L532.26,56.15 L533.71,55.79 L535.16,55.45 L536.61,55.13 L538.06,54.81 L539.51,54.51 L540.97,54.22 L542.42,53.95 L543.88,53.69 L545.34,53.45 L546.80,53.23 L548.26,53.02 L549.72,52.83 L551.18,52.65 L552.65,52.50 L554.11,52.36 L555.58,52.25 L557.05,52.15 L558.52,52.08 L560.00,52.02 L561.47,51.99 L562.95,51.98 L564.43,51.99 L565.91,52.03 L567.39,52.09 L568.88,52.18 L570.36,52.29 L571.85,52.42 L573.34,52.58 L574.83,52.76 L576.33,52.96 L577.82,53.17 L579.32,53.41 L580.81,53.66 L582.31,53.92 L583.81,54.19 L585.31,54.47 L586.81,54.76 L588.31,55.05 L589.81,55.35 L591.32,55.64 L592.82,55.94 L594.32,56.24 L595.82,56.53 L597.32,56.82 L598.82,57.10 L600.33,57.37 L601.83,57.63 L603.32,57.88 L604.82,58.11 L606.32,58.33 L607.82,58.53 L609.31,58.71 L610.80,58.87 L612.30,59.00 L613.79,59.11 L615.27,59.19 L616.76,59.25 L618.24,59.27 L619.73,59.26 L621.21,59.22 L622.69,59.16 L624.16,59.07 L625.64,58.96 L627.11,58.83 L628.59,58.68 L630.06,58.51 L631.54,58.33 L633.01,58.13 L634.48,57.92 L635.96,57.70 L637.43,57.47 L638.91,57.23 L640.38,56.99 L641.86,56.74 L643.34,56.50 L644.82,56.25 L646.30,56.01 L647.79,55.77 L649.27,55.54 L650.76,55.31 L652.25,55.09 L653.75,54.89 L655.25,54.70 L656.75,54.52 L658.25,54.36 L659.76,54.22 L661.27,54.10" stroke="#35aa6a"/>
<path d="M78.91,469.62 L80.40,469.61 L81.89,469.60 L83.39,469.60 L84.88,469.60 L86.38,469.60 L87.88,469.61 L89.38,469.62 L90.88,469.63 L92.38,469.64 L93.88,469.65 L95.39,469.66 L96.89,469.67 L98.39,469.68 L99.89,469.69 L101.39,469.70 L102.89,469.71 L104.39,469.71 L105.89,469.71 L107.38,469.71 L108.88,469.70 L110.37,469.69 L111.86,469.67 L113.35,469.65 L114.84,469.64 L116.33,469.62 L117.83,469.61 L119.32,469.61 L120.83,469.61 L122.34,469.63 L123.86,469.66 L125.38,469.70 L126.92,469.74 L128.45,469.74 L130.00,469.68 L131.50,469.48 L132.69,468.89 L133.39,467.77 L133.80,466.36 L134.16,464.93 L134.49,463.48 L134.80,462.03 L135.08,460.57 L135.33,459.11 L135.56,457.64 L135.77,456.16 L135.97,454.68 L136.14,453.19 L136.30,451.70 L136.45,450.21 L136.59,448.71 L136.71,447.21 L136.83,445.71 L136.95,444.21 L137.06,442.71 L137.17,441.21 L137.28,439.71 L137.39,438.21 L137.50,436.71 L137.61,435.21 L137.73,433.72 L137.85,432.22 L137.96,430.73 L138.08,429.23 L138.20,427.74 L138.32,426.25 L138.44,424.76 L138.56,423.27 L138.68,421.78 L138.81,420.29 L138.93,418.80 L139.04,417.30 L139.16,415.81 L139.28,414.32 L139.40,412.83 L139.51,411.34 L139.63,409.85 L139.74,408.36 L139.85,406.86 L139.96,405.37 L140.06,403.88 L140.17,402.38 L140.27,400.89 L140.38,399.39 L140.48,397.90 L140.58,396.40 L140.69,394.91 L140.79,393.41 L140.89,391.91 L140.99,390.42 L141.09,388.92 L141.19,387.42 L141.29,385.93 L141.39,384.43 L141.49,382.93 L141.59,381.44 L141.70,379.94 L141.80,378.44 L141.90,376.94 L142.00,375.45 L142.11,373.95 L142.22,372.45 L142.32,370.95 L142.43,369.46 L142.54,367.96 L142.65,366.46 L142.77,364.97 L142.88,363.47 L143.00,361.97 L143.12,360.48 L143.24,358.98 L143.36,357.49 L143.48,355.99 L143.61,354.50 L143.74,353.00 L143.87,351.51 L144.01,350.02 L144.15,348.52 L144.29,347.03 L144.43,345.54 L144.58,344.05 L144.73,342.55 L144.89,341.06 L145.04,339.57 L145.20,338.08 L145.37,336.60 L145.54,335.11 L145.71,333.62 L145.89,332.13 L146.07,330.65 L146.25,329.16 L146.44,327.68 L146.64,326.19 L146.84,324.71 L147.04,323.23 L147.25,321.75 L147.46,320.27 L147.68,318.79 L147.91,317.31 L148.14,315.83 L148.37,314.35 L148.61,312.88 L148.86,311.40 L149.11,309.93 L149.37,308.45 L149.63,306.98 L149.90,305.51 L150.17,304.04 L150.46,302.57 L150.75,301.11 L151.04,299.64 L151.34,298.18 L151.65,296.71 L151.97,295.25 L152.29,293.79 L152.62,292.33 L152.95,290.87 L153.30,289.41 L153.65,287.96 L154.01,286.51 L154.38,285.05 L154.75,283.60 L155.13,282.16 L155.52,280.71 L155.92,279.27 L156.32,277.82 L156.74,276.39 L157.16,274.95 L157.59,273.51 L158.03,272.08 L158.47,270.66 L158.93,269.23 L159.39,267.81 L159.87,266.39 L160.35,264.97 L160.84,263.56 L161.34,262.15 L161.85,260.74 L162.36,259.34 L162.89,257.94 L163.43,256.54 L163.97,255.15 L164.53,253.76 L165.09,252.38 L165.66,251.00 L166.25,249.62 L166.84,248.25 L167.45,246.88 L168.06,245.52 L168.68,244.16 L169.32,242.81 L169.96,241.46 L170.62,240.12 L171.28,238.78 L171.96,237.45 L172.64,236.12 L173.34,234.79 L174.04,233.47 L174.76,232.16 L175.48,230.85 L176.21,229.54 L176.95,228.24 L177.70,226.94 L178.46,225.65 L179.22,224.36 L179.99,223.07 L180.77,221.79 L181.55,220.51 L182.34,219.23 L183.14,217.96 L183.94,216.69 L184.75,215.42 L185.56,214.15 L186.38,212.89 L187.20,211.63 L188.03,210.38 L188.86,209.12 L189.69,207.87 L190.53,206.62 L191.37,205.37 L192.22,204.12 L193.06,202.88 L193.91,201.64 L194.76,200.39 L195.62,199.15 L196.47,197.92 L197.33,196.68 L198.18,195.44 L199.04,194.20 L199.90,192.97 L200.75,191.74 L201.61,190.50 L202.47,189.27 L203.32,188.03 L204.18,186.80 L205.03,185.57 L205.88,184.34 L206.74,183.11 L207.60,181.88 L208.46,180.66 L209.33,179.45 L210.20,178.24 L211.08,177.04 L211.97,175.85 L212.87,174.66 L213.77,173.49 L214.70,172.33 L215.63,171.19 L216.58,170.05 L217.55,168.93 L218.53,167.83 L219.53,166.75 L220.55,165.68 L221.59,164.63 L222.65,163.60 L223.74,162.60 L224.85,161.61 L225.98,160.65 L227.13,159.70 L228.30,158.76 L229.48,157.84 L230.67,156.93 L231.88,156.03 L233.09,155.14 L234.31,154.25 L235.54,153.36 L236.77,152.47 L237.99,151.57 L239.22,150.68 L240.44,149.77 L241.65,148.86 L242.86,147.93 L244.05,147.00 L245.24,146.04 L246.40,145.07 L247.56,144.09 L248.71,143.10 L249.85,142.10 L250.99,141.10 L252.12,140.10 L253.25,139.11 L254.39,138.12 L255.53,137.14 L256.67,136.17 L257.82,135.22 L258.99,134.30 L260.16,133.39 L261.35,132.51 L262.56,131.66 L263.78,130.85 L265.03,130.07 L266.30,129.33 L267.59,128.63 L268.91,127.97 L270.24,127.35 L271.60,126.76 L272.98,126.21 L274.37,125.69 L275.78,125.19 L277.20,124.72 L278.64,124.28 L280.08,123.85 L281.54,123.44 L283.00,123.06 L284.47,122.68 L285.94,122.32 L287.42,121.96 L288.90,121.62 L290.38,121.27 L291.85,120.94 L293.33,120.60 L294.80,120.26 L296.27,119.92 L297.74,119.58 L299.21,119.23 L300.67,118.88 L302.13,118.52 L303.58,118.16 L305.03,117.78 L306.47,117.39 L307.90,116.99 L309.33,116.58 L310.76,116.15 L312.17,115.70 L313.58,115.24 L314.98,114.76 L316.38,114.26 L317.76,113.73 L319.14,113.18 L320.51,112.62 L321.87,112.03 L323.22,111.43 L324.57,110.81 L325.92,110.17 L327.26,109.52 L328.60,108.86 L329.93,108.18 L331.27,107.50 L332.60,106.81 L333.93,106.11 L335.26,105.40 L336.60,104.69 L337.93,103.98 L339.27,103.27 L340.61,102.55 L341.96,101.84 L343.31,101.14 L344.67,100.44 L346.03,99.75 L347.39,99.08 L348.76,98.43 L350.13,97.80 L351.52,97.19 L352.90,96.61 L354.29,96.07 L355.69,95.55 L357.10,95.08 L358.51,94.64 L359.93,94.25 L361.36,93.91 L362.79,93.61 L364.23,93.37 L365.68,93.19 L367.14,93.06 L368.60,92.98 L370.07,92.94 L371.55,92.94 L373.03,92.97 L374.52,93.04 L376.01,93.13 L377.50,93.25 L379.00,93.38 L380.50,93.52 L382.01,93.67 L383.52,93.82 L385.03,93.98 L386.54,94.12 L388.05,94.26 L389.56,94.39 L391.07,94.51 L392.58,94.62 L394.10,94.72 L395.61,94.81 L397.12,94.89 L398.63,94.95 L400.14,95.00 L401.65,95.04 L403.16,95.06 L404.66,95.07 L406.17,95.06 L407.67,95.04 L409.17,95.01 L410.67,94.95 L412.16,94.88 L413.65,94.79 L415.14,94.69 L416.63,94.56 L418.11,94.42 L419.59,94.25 L421.06,94.07 L422.53,93.86 L424.00,93.64 L425.46,93.39 L426.91,93.12 L428.36,92.83 L429.81,92.51 L431.25,92.17 L432.68,91.81 L434.11,91.42 L435.54,91.00 L436.95,90.57 L438.37,90.11 L439.77,89.64 L441.18,89.14 L442.58,88.63 L443.97,88.10 L445.37,87.56 L446.76,87.01 L448.14,86.44 L449.53,85.87 L450.91,85.28 L452.30,84.69 L453.68,84.10 L455.06,83.50 L456.44,82.89 L457.82,82.29 L459.20,81.68 L460.58,81.08 L461.97,80.48 L463.35,79.88 L464.74,79.29 L466.13,78.71 L467.52,78.13 L468.92,77.56 L470.32,77.01 L471.72,76.46 L473.13,75.93 L474.54,75.42 L475.95,74.92 L477.37,74.44 L478.80,73.98 L480.23,73.54 L481.67,73.12 L483.11,72.72 L484.56,72.33 L486.01,71.97 L487.47,71.62 L488.93,71.29 L490.39,70.99 L491.86,70.70 L493.33,70.42 L494.80,70.17 L496.28,69.93 L497.76,69.72 L499.24,69.52 L500.72,69.34 L502.21,69.17 L503.70,69.03 L505.19,68.90 L506.68,68.79 L508.17,68.69 L509.66,68.62 L511.16,68.56 L512.65,68.52 L514.15,68.49 L515.64,68.48 L517.14,68.49 L518.63,68.52 L520.12,68.56 L521.62,68.62 L523.11,68.69 L524.60,68.78 L526.09,68.89 L527.58,69.01 L529.06,69.15 L530.55,69.30 L532.03,69.46 L533.52,69.64 L535.00,69.82 L536.48,70.02 L537.96,70.23 L539.44,70.44 L540.92,70.67 L542.40,70.90 L543.88,71.14 L545.36,71.38 L546.84,71.63 L548.32,71.88 L549.80,72.14 L551.28,72.40 L552.75,72.67 L554.23,72.93 L555.71,73.20 L557.19,73.47 L558.67,73.73 L560.15,74.00 L561.63,74.26 L563.11,74.52 L564.59,74.77 L566.07,75.02 L567.55,75.27 L569.03,75.51 L570.52,75.74 L572.00,75.97 L573.49,76.19 L574.97,76.41 L576.46,76.61 L577.94,76.81 L579.43,77.01 L580.92,77.19 L582.41,77.37 L583.90,77.54 L585.39,77.71 L586.87,77.86 L588.37,78.01 L589.86,78.15 L591.35,78.28 L592.84,78.40 L594.33,78.51 L595.82,78.62 L597.31,78.71 L598.80,78.80 L600.30,78.88 L601.79,78.95 L603.28,79.01 L604.77,79.05 L606.27,79.09 L607.76,79.12 L609.25,79.14 L610.74,79.15 L612.24,79.15 L613.73,79.14 L615.22,79.11 L616.71,79.08 L618.20,79.03 L619.69,78.98 L621.18,78.91 L622.67,78.83 L624.16,78.74 L625.65,78.64 L627.14,78.53 L628.63,78.40 L630.12,78.26 L631.61,78.11 L633.10,77.95 L634.58,77.77 L636.07,77.59 L637.55,77.39 L639.04,77.17 L640.52,76.94 L642.01,76.70 L643.49,76.45 L644.97,76.18 L646.45,75.90 L647.93,75.60 L649.41,75.30 L650.89,74.97 L652.36,74.63 L653.84,74.28 L655.32,73.91 L656.79,73.53 L658.26,73.13 L659.73,72.72 L661.20,72.29" stroke="#ad72dc"/>
<path d="M78.93,454.96 L79.45,456.40 L80.20,457.73 L81.13,458.91 L82.24,459.91 L83.48,460.68 L84.82,461.27 L86.25,461.70 L87.72,462.03 L89.21,462.29 L90.70,462.51 L92.19,462.69 L93.67,462.84 L95.16,462.96 L96.64,463.06 L98.13,463.14 L99.62,463.20 L101.12,463.25 L102.62,463.28 L104.13,463.31 L105.64,463.34 L107.16,463.36 L108.68,463.39 L110.19,463.43 L111.69,463.49 L113.17,463.58 L114.62,463.70 L116.06,463.84 L117.50,464.02 L118.97,464.23 L120.46,464.46 L122.02,464.72 L123.63,464.99 L125.24,465.17 L126.72,465.14 L127.98,464.76 L128.92,463.93 L129.57,462.72 L130.04,461.29 L130.41,459.78 L130.75,458.27 L131.04,456.78 L131.30,455.28 L131.53,453.79 L131.73,452.31 L131.91,450.82 L132.07,449.33 L132.22,447.85 L132.35,446.36 L132.48,444.87 L132.60,443.38 L132.71,441.89 L132.81,440.40 L132.91,438.90 L133.00,437.41 L133.09,435.91 L133.17,434.41 L133.24,432.92 L133.32,431.42 L133.39,429.92 L133.46,428.42 L133.52,426.92 L133.59,425.43 L133.65,423.93 L133.71,422.43 L133.77,420.93 L133.82,419.44 L133.88,417.94 L133.93,416.44 L133.98,414.94 L134.03,413.44 L134.08,411.95 L134.13,410.45 L134.18,408.95 L134.22,407.45 L134.27,405.96 L134.31,404.46 L134.36,402.96 L134.40,401.46 L134.44,399.96 L134.49,398.47 L134.53,396.97 L134.58,395.47 L134.62,393.97 L134.67,392.47 L134.71,390.97 L134.75,389.48 L134.80,387.98 L134.84,386.48 L134.89,384.98 L134.93,383.48 L134.98,381.98 L135.02,380.48 L135.07,378.98 L135.11,377.49 L135.16,375.99 L135.20,374.49 L135.25,372.99 L135.29,371.49 L135.34,369.99 L135.39,368.49 L135.43,366.99 L135.48,365.49 L135.53,364.00 L135.57,362.50 L135.62,361.00 L135.67,359.50 L135.71,358.00 L135.76,356.50 L135.81,355.00 L135.86,353.50 L135.91,352.00 L135.96,350.51 L136.01,349.01 L136.05,347.51 L136.10,346.01 L136.15,344.51 L136.20,343.01 L136.25,341.51 L136.31,340.01 L136.36,338.51 L136.41,337.02 L136.46,335.52 L136.51,334.02 L136.57,332.52 L136.62,331.02 L136.67,329.52 L136.73,328.02 L136.78,326.53 L136.83,325.03 L136.89,323.53 L136.95,322.03 L137.00,320.53 L137.06,319.03 L137.11,317.54 L137.17,316.04 L137.23,314.54 L137.29,313.04 L137.35,311.54 L137.41,310.05 L137.47,308.55 L137.53,307.05 L137.59,305.55 L137.65,304.06 L137.71,302.56 L137.77,301.06 L137.83,299.57 L137.90,298.07 L137.96,296.57 L138.03,295.07 L138.09,293.58 L138.16,292.08 L138.22,290.58 L138.29,289.09 L138.36,287.59 L138.43,286.10 L138.49,284.60 L138.56,283.10 L138.63,281.61 L138.71,280.11 L138.78,278.62 L138.85,277.12 L138.92,275.63 L138.99,274.13 L139.07,272.63 L139.14,271.14 L139.22,269.64 L139.30,268.15 L139.37,266.66 L139.45,265.16 L139.53,263.67 L139.61,262.17 L139.69,260.68 L139.77,259.18 L139.85,257.69 L139.94,256.20 L140.03,254.70 L140.11,253.21 L140.20,251.72 L140.29,250.22 L140.39,248.73 L140.48,247.24 L140.58,245.74 L140.68,244.25 L140.78,242.75 L140.88,241.26 L140.99,239.77 L141.10,238.27 L141.21,236.78 L141.32,235.29 L141.44,233.79 L141.56,232.30 L141.68,230.81 L141.81,229.31 L141.94,227.82 L142.07,226.32 L142.21,224.83 L142.35,223.34 L142.49,221.84 L142.64,220.35 L142.79,218.85 L142.94,217.36 L143.10,215.86 L143.26,214.37 L143.43,212.87 L143.60,211.38 L143.78,209.88 L143.96,208.39 L144.14,206.89 L144.33,205.39 L144.52,203.90 L144.72,202.40 L144.93,200.91 L145.14,199.41 L145.36,197.92 L145.59,196.43 L145.83,194.94 L146.08,193.45 L146.33,191.97 L146.60,190.49 L146.87,189.01 L147.16,187.53 L147.46,186.06 L147.77,184.59 L148.09,183.13 L148.43,181.67 L148.78,180.22 L149.14,178.77 L149.52,177.33 L149.92,175.89 L150.33,174.46 L150.76,173.04 L151.20,171.62 L151.66,170.21 L152.14,168.81 L152.64,167.41 L153.16,166.02 L153.70,164.64 L154.26,163.27 L154.83,161.91 L155.43,160.56 L156.06,159.21 L156.70,157.88 L157.37,156.56 L158.06,155.24 L158.77,153.94 L159.51,152.65 L160.27,151.37 L161.06,150.10 L161.88,148.84 L162.72,147.60 L163.58,146.37 L164.46,145.15 L165.36,143.95 L166.29,142.76 L167.24,141.58 L168.20,140.42 L169.19,139.28 L170.19,138.15 L171.21,137.04 L172.25,135.94 L173.30,134.86 L174.37,133.80 L175.45,132.76 L176.55,131.74 L177.66,130.74 L178.78,129.75 L179.91,128.79 L181.06,127.84 L182.21,126.92 L183.37,126.00 L184.53,125.10 L185.69,124.19 L186.85,123.27 L188.00,122.35 L189.14,121.41 L190.27,120.44 L191.38,119.44 L192.48,118.41 L193.55,117.33 L194.60,116.22 L195.64,115.09 L196.66,113.93 L197.67,112.75 L198.67,111.57 L199.66,110.39 L200.66,109.22 L201.65,108.06 L202.65,106.93 L203.66,105.82 L204.67,104.73 L205.68,103.66 L206.71,102.60 L207.74,101.57 L208.77,100.55 L209.82,99.54 L210.88,98.55 L211.95,97.57 L213.02,96.59 L214.11,95.63 L215.21,94.68 L216.33,93.73 L217.46,92.78 L218.60,91.84 L219.76,90.90 L220.93,89.96 L222.12,89.03 L223.32,88.09 L224.54,87.16 L225.78,86.24 L227.02,85.32 L228.29,84.42 L229.56,83.54 L230.85,82.67 L232.15,81.82 L233.46,81.00 L234.78,80.19 L236.11,79.42 L237.46,78.68 L238.81,77.97 L240.17,77.29 L241.54,76.65 L242.92,76.05 L244.30,75.49 L245.70,74.98 L247.10,74.51 L248.50,74.09 L249.91,73.71 L251.33,73.38 L252.75,73.08 L254.18,72.82 L255.62,72.60 L257.06,72.42 L258.50,72.27 L259.95,72.15 L261.40,72.07 L262.86,72.01 L264.32,71.99 L265.79,71.99 L267.26,72.02 L268.74,72.07 L270.21,72.14 L271.69,72.24 L273.18,72.35 L274.66,72.49 L276.15,72.64 L277.64,72.80 L279.14,72.98 L280.63,73.17 L282.13,73.38 L283.63,73.59 L285.13,73.81 L286.63,74.04 L288.14,74.27 L289.64,74.50 L291.15,74.74 L292.65,74.98 L294.16,75.22 L295.66,75.45 L297.17,75.68 L298.67,75.91 L300.18,76.13 L301.68,76.34 L303.18,76.54 L304.69,76.73 L306.19,76.91 L307.69,77.08 L309.19,77.23 L310.68,77.37 L312.18,77.50 L313.67,77.62 L315.17,77.73 L316.66,77.82 L318.16,77.91 L319.65,77.98 L321.14,78.04 L322.63,78.09 L324.12,78.13 L325.60,78.16 L327.09,78.18 L328.58,78.18 L330.07,78.18 L331.55,78.16 L333.04,78.14 L334.52,78.10 L336.01,78.06 L337.49,78.00 L338.97,77.94 L340.46,77.86 L341.94,77.78 L343.42,77.68 L344.90,77.58 L346.39,77.46 L347.87,77.34 L349.35,77.21 L350.83,77.07 L352.31,76.91 L353.80,76.75 L355.28,76.59 L356.76,76.41 L358.24,76.22 L359.72,76.03 L361.21,75.83 L362.69,75.62 L364.17,75.40 L365.65,75.17 L367.13,74.94 L368.61,74.70 L370.09,74.45 L371.57,74.20 L373.05,73.94 L374.53,73.68 L376.01,73.41 L377.49,73.13 L378.97,72.85 L380.44,72.56 L381.92,72.27 L383.40,71.97 L384.87,71.67 L386.35,71.36 L387.82,71.05 L389.29,70.73 L390.77,70.41 L392.24,70.09 L393.71,69.76 L395.18,69.44 L396.65,69.10 L398.11,68.77 L399.58,68.43 L401.05,68.09 L402.51,67.75 L403.97,67.41 L405.44,67.06 L406.90,66.72 L408.36,66.37 L409.81,66.02 L411.27,65.67 L412.73,65.31 L414.18,64.96 L415.64,64.61 L417.09,64.25 L418.54,63.89 L419.99,63.53 L421.44,63.17 L422.89,62.81 L424.34,62.45 L425.79,62.09 L427.24,61.72 L428.68,61.36 L430.13,60.99 L431.58,60.62 L433.02,60.25 L434.47,59.88 L435.91,59.51 L437.36,59.14 L438.80,58.76 L440.25,58.39 L441.69,58.01 L443.14,57.64 L444.58,57.26 L446.03,56.88 L447.47,56.50 L448.91,56.12 L450.36,55.74 L451.80,55.35 L453.25,54.97 L454.70,54.58 L456.14,54.20 L457.59,53.81 L459.03,53.43 L460.48,53.04 L461.93,52.65 L463.38,52.26 L464.83,51.87 L466.28,51.49 L467.73,51.10 L469.18,50.72 L470.63,50.34 L472.08,49.95 L473.54,49.58 L474.99,49.20 L476.44,48.83 L477.90,48.46 L479.36,48.09 L480.81,47.73 L482.27,47.37 L483.73,47.01 L485.19,46.66 L486.65,46.31 L488.11,45.97 L489.58,45.64 L491.04,45.31 L492.50,44.98 L493.97,44.67 L495.44,44.36 L496.91,44.05 L498.37,43.75 L499.85,43.47 L501.32,43.18 L502.79,42.91 L504.26,42.64 L505.74,42.39 L507.22,42.14 L508.70,41.90 L510.17,41.67 L511.66,41.45 L513.14,41.24 L514.62,41.04 L516.11,40.84 L517.59,40.66 L519.08,40.48 L520.57,40.31 L522.06,40.15 L523.55,40.00 L525.04,39.85 L526.53,39.72 L528.02,39.59 L529.51,39.46 L531.01,39.34 L532.50,39.23 L534.00,39.13 L535.49,39.03 L536.99,38.94 L538.49,38.86 L539.99,38.78 L541.48,38.70 L542.98,38.63 L544.48,38.57 L545.98,38.51 L547.48,38.46 L548.98,38.41 L550.48,38.37 L551.98,38.33 L553.48,38.29 L554.98,38.26 L556.48,38.23 L557.98,38.21 L559.48,38.19 L560.98,38.17 L562.48,38.15 L563.98,38.14 L565.48,38.14 L566.98,38.13 L568.48,38.13 L569.98,38.13 L571.47,38.14 L572.97,38.14 L574.47,38.16 L575.97,38.17 L577.47,38.19 L578.97,38.21 L580.47,38.23 L581.96,38.26 L583.46,38.29 L584.96,38.32 L586.46,38.36 L587.96,38.40 L589.45,38.44 L590.95,38.48 L592.45,38.53 L593.94,38.58 L595.44,38.64 L596.94,38.69 L598.44,38.75 L599.93,38.82 L601.43,38.88 L602.93,38.95 L604.42,39.02 L605.92,39.10 L607.41,39.17 L608.91,39.25 L610.41,39.34 L611.90,39.42 L613.40,39.51 L614.89,39.60 L616.39,39.70 L617.88,39.79 L619.38,39.89 L620.87,39.99 L622.37,40.10 L623.86,40.21 L625.36,40.32 L626.85,40.43 L628.35,40.54 L629.84,40.66 L631.33,40.78 L632.83,40.91 L634.32,41.03 L635.82,41.16 L637.31,41.29 L638.80,41.43 L640.30,41.56 L641.79,41.70 L643.28,41.84 L644.78,41.99 L646.27,42.13 L647.76,42.28 L649.26,42.43 L650.75,42.59 L652.24,42.74 L653.73,42.90 L655.23,43.06 L656.72,43.22 L658.21,43.39 L659.70,43.56 L661.19,43.73" stroke="#d09a08"/>
</g>
<g font-family="Liberation Sans" font-weight="bold" font-size="20" fill="#000">
<text transform="translate(62.22,501.50) scale(1,1.03)">3</text>
<text transform="translate(73.34,501.50) scale(1,1.03)">0</text>
<text transform="translate(84.46,501.50) scale(1,1.03)">0</text>
<text transform="translate(135.00,501.50) scale(1,1.03)">4</text>
<text transform="translate(146.13,501.50) scale(1,1.03)">0</text>
<text transform="translate(157.25,501.50) scale(1,1.03)">0</text>
<text transform="translate(207.79,501.50) scale(1,1.03)">5</text>
<text transform="translate(218.91,501.50) scale(1,1.03)">0</text>
<text transform="translate(230.04,501.50) scale(1,1.03)">0</text>
<text transform="translate(280.58,501.50) scale(1,1.03)">6</text>
<text transform="translate(291.70,501.50) scale(1,1.03)">0</text>
<text transform="translate(302.82,501.50) scale(1,1.03)">0</text>
<text transform="translate(353.37,501.50) scale(1,1.03)">7</text>
<text transform="translate(364.49,501.50) scale(1,1.03)">0</text>
<text transform="translate(375.61,501.50) scale(1,1.03)">0</text>
<text transform="translate(426.15,501.50) scale(1,1.03)">8</text>
<text transform="translate(437.28,501.50) scale(1,1.03)">0</text>
<text transform="translate(448.40,501.50) scale(1,1.03)">0</text>
<text transform="translate(498.94,501.50) scale(1,1.03)">9</text>
<text transform="translate(510.06,501.50) scale(1,1.03)">0</text>
<text transform="translate(521.19,501.50) scale(1,1.03)">0</text>
<path transform="translate(566.17,501.50) scale(0.009766,-0.009766)" d="M800,0 L520,0 L520,1046 Q440,970 322,905 Q205,840 110,808 L110,1061 Q245,1105 400,1225 Q555,1345 612,1466 L800,1466 Z"/>
<text transform="translate(577.29,501.50) scale(1,1.03)">0</text>
<text transform="translate(588.41,501.50) scale(1,1.03)">0</text>
<text transform="translate(599.54,501.50) scale(1,1.03)">0</text>
<path transform="translate(638.95,501.50) scale(0.009766,-0.009766)" d="M800,0 L520,0 L520,1046 Q440,970 322,905 Q205,840 110,808 L110,1061 Q245,1105 400,1225 Q555,1345 612,1466 L800,1466 Z"/>
<path transform="translate(650.08,501.50) scale(0.009766,-0.009766)" d="M800,0 L520,0 L520,1046 Q440,970 322,905 Q205,840 110,808 L110,1061 Q245,1105 400,1225 Q555,1345 612,1466 L800,1466 Z"/>
<text transform="translate(661.20,501.50) scale(1,1.03)">0</text>
<text transform="translate(672.32,501.50) scale(1,1.03)">0</text>
<text transform="translate(52.38,476.75) scale(1,1.03)">0</text>
<text transform="translate(41.25,391.48) scale(1,1.03)">2</text>
<text transform="translate(52.38,391.48) scale(1,1.03)">0</text>
<text transform="translate(41.25,306.20) scale(1,1.03)">4</text>
<text transform="translate(52.38,306.20) scale(1,1.03)">0</text>
<text transform="translate(41.25,220.93) scale(1,1.03)">6</text>
<text transform="translate(52.38,220.93) scale(1,1.03)">0</text>
<text transform="translate(41.25,135.66) scale(1,1.03)">8</text>
<text transform="translate(52.38,135.66) scale(1,1.03)">0</text>
<path transform="translate(30.13,50.39) scale(0.009766,-0.009766)" d="M800,0 L520,0 L520,1046 Q440,970 322,905 Q205,840 110,808 L110,1061 Q245,1105 400,1225 Q555,1345 612,1466 L800,1466 Z"/>
<text transform="translate(41.25,50.39) scale(1,1.03)">0</text>
<text transform="translate(52.38,50.39) scale(1,1.03)">0</text>
</g>
<text transform="translate(370.1,544.0) scale(0.885,1)" text-anchor="middle" letter-spacing="1.0" font-family="Liberation Serif" font-weight="bold" font-size="26" fill="#000">Wavelenght(nm)</text>
<text transform="translate(20.8,235.9) rotate(-90) scale(0.885,1)" text-anchor="middle" letter-spacing="0.97" font-family="Liberation Serif" font-weight="bold" font-size="26" fill="#000">Transmittance(%)</text>
<rect x="486.7" y="271.7" width="171.8" height="186.1" fill="#fff" stroke="#7a7a7a" stroke-width="1.3"/>
<line x1="490" y1="288.60" x2="544.4" y2="288.60" stroke="#4a4a4a" stroke-width="3.4" stroke-linecap="round"/>
<text x="551.3" y="297.60" font-family="Liberation Serif" font-weight="bold" font-size="24.5" fill="#000">Mn= 0%</text>
<line x1="490" y1="319.12" x2="544.4" y2="319.12" stroke="#f03c3c" stroke-width="3.4" stroke-linecap="round"/>
<text x="551.3" y="328.12" font-family="Liberation Serif" font-weight="bold" font-size="24.5" fill="#000">Mn= 2%</text>
<line x1="490" y1="349.64" x2="544.4" y2="349.64" stroke="#1a68dc" stroke-width="3.4" stroke-linecap="round"/>
<text x="551.3" y="358.64" font-family="Liberation Serif" font-weight="bold" font-size="24.5" fill="#000">Mn= 4%</text>
<line x1="490" y1="380.16" x2="544.4" y2="380.16" stroke="#35aa6a" stroke-width="3.4" stroke-linecap="round"/>
<text x="551.3" y="389.16" font-family="Liberation Serif" font-weight="bold" font-size="24.5" fill="#000">Mn= 6%</text>
<line x1="490" y1="410.68" x2="544.4" y2="410.68" stroke="#ad72dc" stroke-width="3.4" stroke-linecap="round"/>
<text x="551.3" y="419.68" font-family="Liberation Serif" font-weight="bold" font-size="24.5" fill="#000">Mn= 8%</text>
<line x1="490" y1="441.20" x2="544.4" y2="441.20" stroke="#d09a08" stroke-width="3.4" stroke-linecap="round"/>
<text x="551.3" y="450.20" font-family="Liberation Serif" font-weight="bold" font-size="24.5" fill="#000">Mn= 10%</text>
</svg>
</body></html>
